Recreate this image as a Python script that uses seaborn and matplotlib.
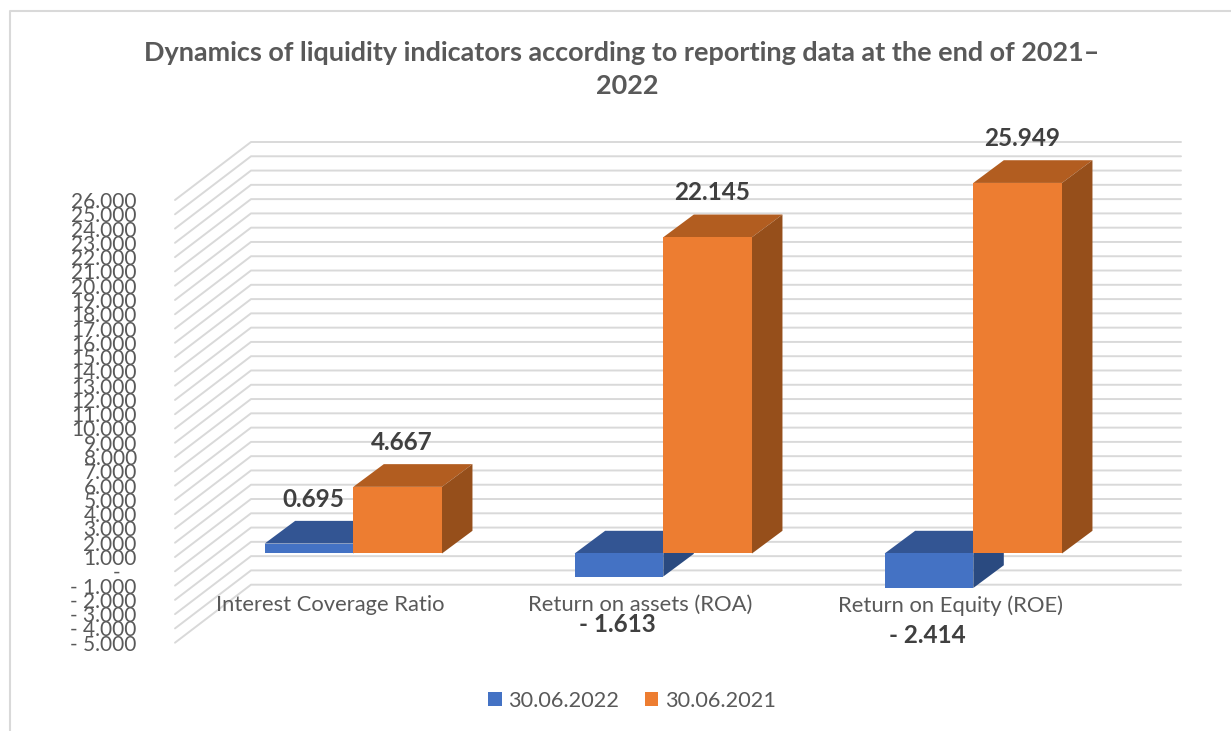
import numpy as np
import pandas as pd
import seaborn as sns
from matplotlib import pyplot as plt
from matplotlib.patches import Polygon

categories = ['Interest Coverage Ratio', 'Return on assets (ROA)', 'Return on Equity (ROE)']
values_2022 = [0.695, -1.613, -2.414]
values_2021 = [4.667, 22.145, 25.949]
series_names = ['30.06.2022', '30.06.2021']
y_ticks = list(range(-5, 27))

W, H = 1231, 731
# axes box in pixels, this is the front plane of the fake 3d box
AX_L, AX_R, AX_T, AX_B = 175, 1105, 200, 642.7

sns.set_theme(style='white')
plt.rcParams['font.family'] = ['Lato', 'DejaVu Sans']

fig = plt.figure(figsize=(W / 100, H / 100), dpi=100)
ax = fig.add_axes([AX_L / W, 1 - AX_B / H, (AX_R - AX_L) / W, (AX_B - AX_T) / H])

df = pd.DataFrame({
    'category': categories * 2,
    'value': values_2022 + values_2021,
    'series': [series_names[0]] * 3 + [series_names[1]] * 3,
})
sns.barplot(data=df, x='category', y='value', hue='series', ax=ax, order=categories,
            hue_order=series_names, palette=['#4472C4', '#ED7D31'], saturation=1,
            width=0.572, gap=0, errorbar=None, linewidth=0)
ax.set_xlim(-0.5, 2.5)
ax.set_ylim(-5, 26)
ax.set(xlabel='', ylabel='')

unit_x = (AX_R - AX_L) / 3
unit_y = (AX_B - AX_T) / 31
wall_dx, wall_dy = 76 / unit_x, 58 / unit_y
shift_dx, shift_dy = 23.3 / unit_x, 17.8 / unit_y
bar_dx, bar_dy = 30.5 / unit_x, 22.7 / unit_y

# walls
grid_color = '#D9D9D9'
for v in y_ticks:
    ax.plot([-0.5, -0.5 + wall_dx, 2.5 + wall_dx], [v, v + wall_dy, v + wall_dy],
            color=grid_color, lw=1.4, clip_on=False, zorder=0.5)

top_colors = ['#335593', '#B25D20']
side_colors = ['#2A4A80', '#964F1B']
for i, cont in enumerate(ax.containers):
    for rect, val in zip(cont, [values_2022, values_2021][i]):
        rect.set_y(shift_dy)
        rect.set_x(rect.get_x() + shift_dx)
        rect.set_zorder(3 + 2 * i)
        rect.set_clip_on(False)
        x0 = rect.get_x()
        x1 = x0 + rect.get_width()
        lo = shift_dy + min(val, 0)
        hi = shift_dy + max(val, 0)
        ax.add_patch(Polygon([(x0, hi), (x1, hi), (x1 + bar_dx, hi + bar_dy), (x0 + bar_dx, hi + bar_dy)],
                             fc=top_colors[i], lw=0, zorder=2 + 2 * i, clip_on=False))
        ax.add_patch(Polygon([(x1, lo), (x1 + bar_dx, lo + bar_dy), (x1 + bar_dx, hi + bar_dy), (x1, hi)],
                             fc=side_colors[i], lw=0, zorder=2 + 2 * i, clip_on=False))
        # value labels
        off = 44.5 if val >= 0 else -47.5
        txt = f'{val:.3f}' if val >= 0 else f'- {abs(val):.3f}'
        ax.annotate(txt, (x0 + rect.get_width() / 2, hi if val >= 0 else lo),
                    xytext=(3 if val >= 0 else -1.5, off * 0.72), textcoords='offset points',
                    ha='center', va='center', fontsize=17.5, fontweight='bold',
                    color='#404040', zorder=10, annotation_clip=False)

for s in ax.spines.values():
    s.set_visible(False)
ax.spines['bottom'].set_position(('data', 0))
ax.set_yticks(y_ticks)
ax.set_yticklabels([f'{v:.3f}' if v > 0 else ('-   ' if v == 0 else f'- {-v:.3f}') for v in y_ticks])
ax.tick_params(axis='y', length=0, pad=27.5, labelsize=15, labelcolor='#595959')
ax.tick_params(axis='x', length=0, pad=17, labelsize=15.8, labelcolor='#595959')

fig.text(621.5 / W, 1 - 53 / H, 'Dynamics of liquidity indicators according to reporting data at the end of 2021–',
         ha='center', va='center', fontsize=19.45, fontweight='bold', color='#595959')
fig.text(627.5 / W, 1 - 86 / H, '2022', ha='center', va='center', fontsize=19.45,
         fontweight='bold', color='#595959')

sns.move_legend(ax, 'center', bbox_to_anchor=(632 / W, 1 - 701 / H), bbox_transform=fig.transFigure,
                ncol=2, frameon=False, title=None, fontsize=15.6, labelcolor='#595959',
                handlelength=0.62, handleheight=0.62, handletextpad=0.3, columnspacing=1.2)

# chart frame, only top and left show in the crop
fig.add_artist(plt.Line2D([9.5 / W, 9.5 / W, 1], [0, 1 - 11 / H, 1 - 11 / H], color=grid_color, lw=1.5))

fig.savefig('out.png', dpi=100)
